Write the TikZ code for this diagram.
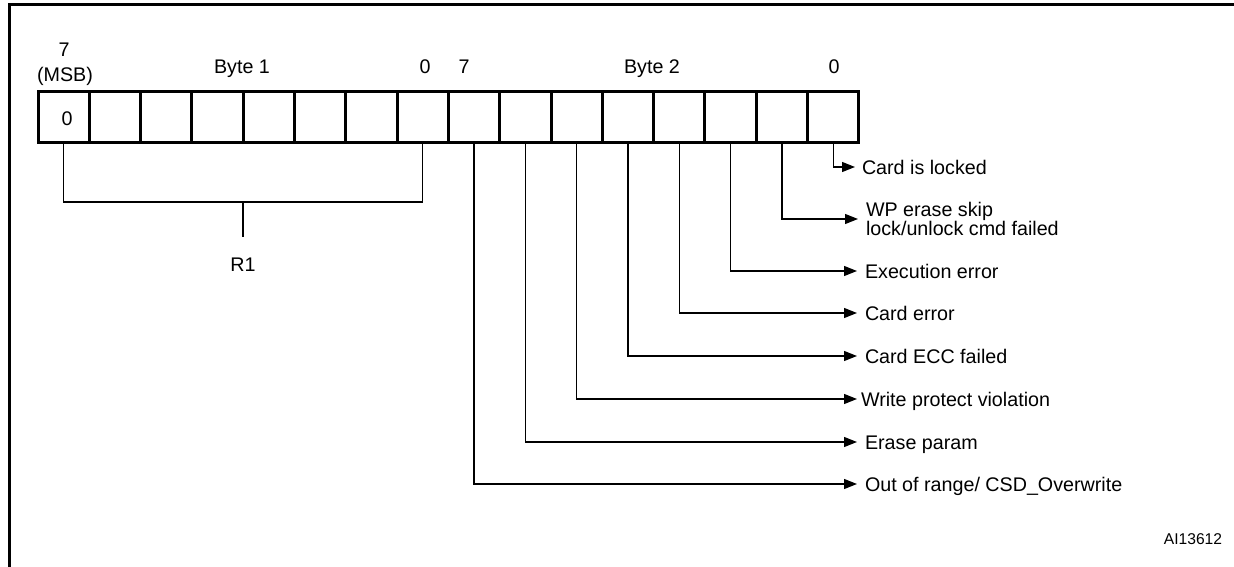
\documentclass[tikz,border=0pt]{standalone}
\usepackage{fontspec}
\setmainfont{Liberation Sans}
\usetikzlibrary{arrows.meta}
\begin{document}
\begin{tikzpicture}[x=1pt,y=-1pt,
  cell/.style={draw, line width=3pt, minimum width=51.3pt, minimum height=51pt, inner sep=0pt, outer sep=0pt},
  txt/.style={font=\fontsize{19.7}{18}\selectfont, inner sep=0pt, anchor=base},
  flag/.style={font=\fontsize{19.7}{18}\selectfont, anchor=west, inner ysep=0pt, inner xsep=8pt, outer sep=0pt, text height=14pt, text depth=0pt},
  flagtwo/.style={font=\fontsize{19.7}{18}\selectfont, anchor=west, inner ysep=0pt, inner xsep=8pt, outer sep=0pt, align=left},
  conn/.style={line width=1.3pt},
  arr/.style={conn, -{Triangle[length=13pt,width=10pt]}},
  frame/.style={line width=3pt}]
\useasboundingbox (0,0) rectangle (1234,567);
% frame (cut off at right and bottom)
\draw[frame] (9.5,567) -- (9.5,5) -- (1234,5);
% cells
\foreach \i in {0,...,15}
  \node[cell] (c\i) at ({38+51.3*\i+25.65},117) {};
\node[txt] (zero) at (67,126) {0};
% top labels
\node[txt] (msb7) at (64,57) {7};
\node[txt] (msb) at (65,82) {(MSB)};
\node[txt] (byte1) at (242,74) {Byte 1};
\node[txt] (b1zero) at (425,74) {0};
\node[txt] (b2seven) at (464,74) {7};
\node[txt] (byte2) at (652,74) {Byte 2};
\node[txt] (b2zero) at (834,74) {0};
% R1 bracket
\draw[conn] (c0.south) -- ++(0,59.5) -| (c7.south);
\coordinate (rm) at (243,202);
\draw[conn] (rm) -- ++(0,35);
\node[txt] (R1) at (243,271) {R1};
% flag labels
\node[flag, inner xsep=7pt] (f15) at (855,167) {Card is locked};
\node[flagtwo] (f14) at (858,219) {WP erase skip\\lock/unlock cmd failed};
\node[flag] (f13) at (857,271) {Execution error};
\node[flag] (f12) at (857,313) {Card error};
\node[flag] (f11) at (857,356) {Card ECC failed};
\node[flag, inner xsep=4pt] (f10) at (857,399) {Write protect violation};
\node[flag] (f9) at (857,442) {Erase param};
\node[flag] (f8) at (857,484) {Out of range/ CSD\_Overwrite};
\foreach \i in {8,...,15}
  \draw[arr] (c\i.south) |- (f\i.west);
% figure id
\node[font=\fontsize{15.6}{18}\selectfont, inner sep=0pt, anchor=base] (aid) at (1193,544.5) {AI13612};
\end{tikzpicture}
\end{document}
